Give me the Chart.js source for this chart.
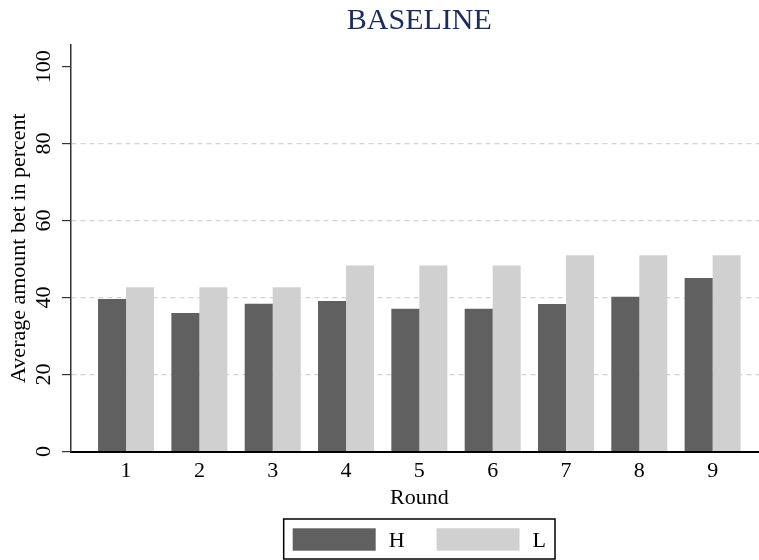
<!DOCTYPE html>
<html><head><meta charset="utf-8">
<script src="https://cdn.jsdelivr.net/npm/chart.js@4/dist/chart.umd.min.js"></script>
<style>html,body{margin:0;padding:0;overflow:hidden;background:#fff}#wrap{width:768px;height:560px}</style>
</head><body><div id="wrap"><canvas id="c" width="768" height="560"></canvas></div>
<script>
const chartTitle = 'BASELINE';
const xTitle = 'Round';
const yTitle = 'Average amount bet in percent';
const rounds = ['1','2','3','4','5','6','7','8','9'];
const seriesNames = ['H','L'];
const seriesH = [39.6, 36.0, 38.4, 39.1, 37.1, 37.1, 38.3, 40.2, 45.1];
const seriesL = [42.7, 42.7, 42.7, 48.3, 48.3, 48.3, 51.0, 51.0, 51.0];
const yTicks = [0, 20, 40, 60, 80, 100];

const FONT = "'Liberation Serif', 'Times New Roman', serif";

const boxLegend = {
  id: 'boxLegend',
  afterDraw(chart) {
    const ctx = chart.ctx, ca = chart.chartArea;
    ctx.save();
    ctx.font = '22px ' + FONT;
    const pad = 9, sw = 83, sh = 22.4, gap = 13, itemGap = 32;
    const ds = chart.data.datasets;
    let total = pad * 2;
    ds.forEach((d, i) => { total += sw + gap + ctx.measureText(d.label).width + (i < ds.length - 1 ? itemGap : 0); });
    const cx = (ca.left + ca.right) / 2;
    const left = cx - total / 2, top = chart.height - 41, h = 40;
    ctx.strokeStyle = '#000'; ctx.lineWidth = 1.5;
    ctx.strokeRect(left, top, total, h);
    let x = left + pad;
    ds.forEach(d => {
      ctx.fillStyle = d.backgroundColor;
      ctx.fillRect(x, top + 9.3, sw, sh);
      x += sw + gap;
      ctx.fillStyle = '#000'; ctx.textBaseline = 'alphabetic'; ctx.textAlign = 'left';
      ctx.fillText(d.label, x, top + 28.3);
      x += ctx.measureText(d.label).width + itemGap;
    });
    ctx.restore();
  }
};

new Chart(document.getElementById('c'), {
  type: 'bar',
  data: {
    datasets: [
      { label: seriesNames[0], data: seriesH.map((v, i) => ({ x: i + 1, y: v })), backgroundColor: '#606060', borderWidth: 0 },
      { label: seriesNames[1], data: seriesL.map((v, i) => ({ x: i + 1, y: v })), backgroundColor: '#d0d0d0', borderWidth: 0 }
    ]
  },
  options: {
    responsive: false,
    animation: false,
    categoryPercentage: 0.7638,
    barPercentage: 1,
    layout: { padding: { left: 0, right: 0, top: 0, bottom: 48.5 } },
    plugins: {
      legend: { display: false },
      tooltip: { enabled: false },
      title: {
        display: true, text: chartTitle, fullSize: false, color: '#1c2d5c',
        font: { family: FONT, size: 30, weight: 'normal' },
        padding: { top: 3.5, bottom: 5.2 }
      }
    },
    scales: {
      x: {
        type: 'linear', min: 0.245, max: 9.755, offset: false,
        afterBuildTicks: s => { s.ticks = rounds.map((r, i) => ({ value: i + 1 })); },
        afterFit: s => { s.height = 60; },
        ticks: { callback: (v, i) => rounds[i], color: '#000', font: { family: FONT, size: 22 }, padding: -1, maxRotation: 0, autoSkip: false },
        grid: { display: false, offset: false },
        border: { display: true, color: '#000', width: 2 },
        title: { display: true, text: xTitle, color: '#000', font: { family: FONT, size: 22 }, padding: { top: 0, bottom: 0 } }
      },
      y: {
        min: 0, max: 105.7,
        afterBuildTicks: s => { s.ticks = yTicks.map(v => ({ value: v })); },
        afterFit: s => { s.width = 70.7; },
        ticks: { color: '#000', font: { family: FONT, size: 22 }, minRotation: 90, maxRotation: 90, crossAlign: 'center', padding: 0.9 },
        grid: {
          color: c => (c.tick && (c.tick.value === 0 || c.tick.value === 100)) ? 'rgba(0,0,0,0)' : '#d4d4d4',
          lineWidth: 1.2, drawTicks: true, tickLength: 8.7, tickColor: '#333', tickWidth: 1.2, tickBorderDash: []
        },
        border: { display: true, color: '#333', width: 1.5, dash: [5, 4] },
        title: { display: true, text: yTitle, color: '#000', font: { family: FONT, size: 22 }, padding: { top: 6, bottom: 0 } }
      }
    }
  },
  plugins: [boxLegend]
});
</script></body></html>
